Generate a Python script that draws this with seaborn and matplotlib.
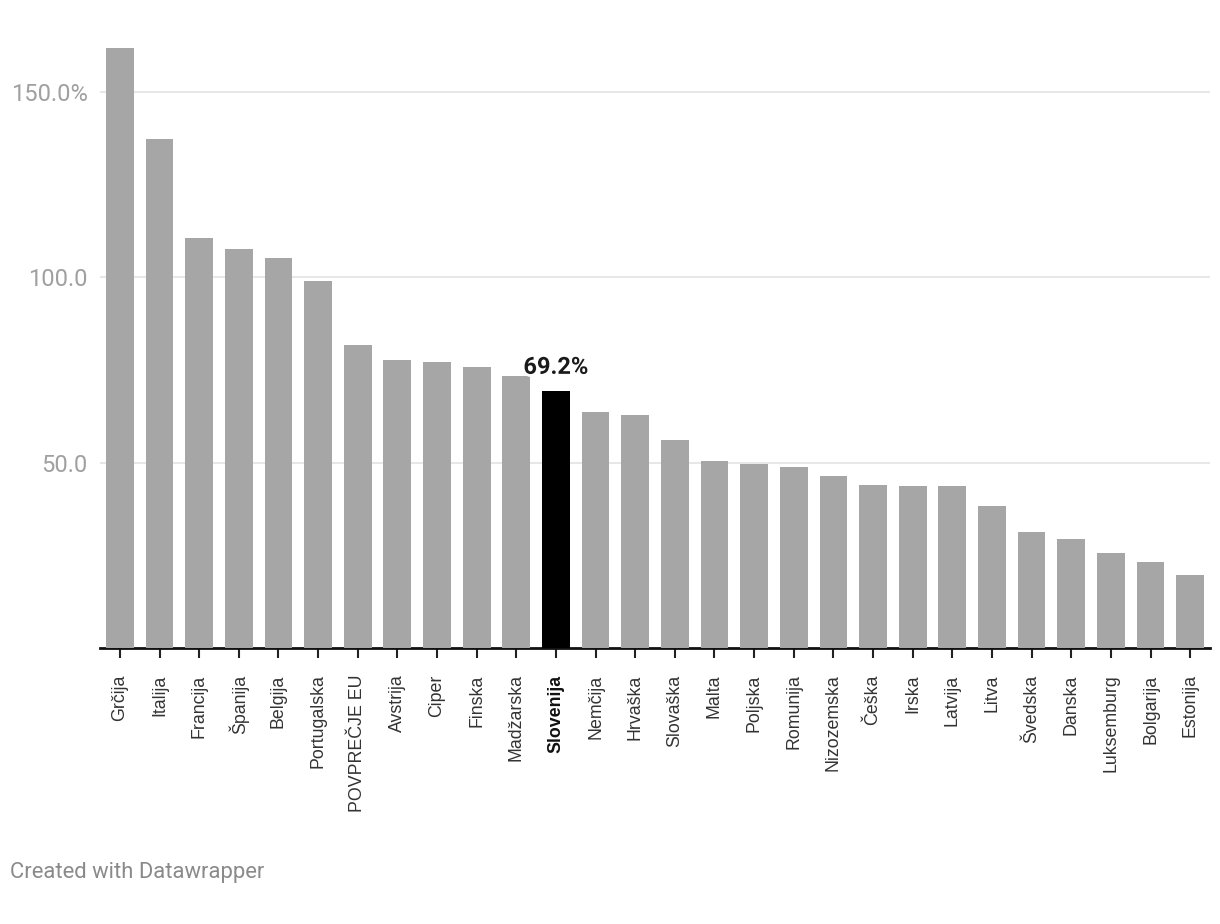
import pandas as pd
import seaborn as sns
import matplotlib.pyplot as plt
import matplotlib.patheffects as pe

countries = [
    "Grčija", "Italija", "Francija", "Španija", "Belgija", "Portugalska",
    "POVPREČJE EU", "Avstrija", "Ciper", "Finska", "Madžarska", "Slovenija",
    "Nemčija", "Hrvaška", "Slovaška", "Malta", "Poljska", "Romunija",
    "Nizozemska", "Češka", "Irska", "Latvija", "Litva", "Švedska",
    "Danska", "Luksemburg", "Bolgarija", "Estonija",
]
debt = [
    161.9, 137.3, 110.6, 107.7, 105.2, 99.0,
    81.8, 77.7, 77.2, 75.8, 73.4, 69.2,
    63.7, 62.9, 56.1, 50.5, 49.6, 48.8,
    46.4, 44.0, 43.7, 43.7, 38.3, 31.3,
    29.4, 25.6, 23.2, 19.7,
]
highlight = "Slovenija"
y_ticks = [50, 100, 150]
y_labels = ["50.0", "100.0", "150.0%"]

df = pd.DataFrame({"country": countries, "debt": debt})

sns.set_style("white")
plt.rcParams["font.family"] = ["Liberation Sans", "DejaVu Sans"]

fig = plt.figure(figsize=(12.2, 9.24), dpi=100)
ax = fig.add_axes([0.082, 0.2987, 0.9098, 0.6623])

palette = {c: ("#000000" if c == highlight else "#a6a6a6") for c in countries}

sns.barplot(
    data=df,
    x="country",
    y="debt",
    hue="country",
    palette=palette,
    legend=False,
    width=0.7,
    saturation=1,
    linewidth=0,
    ax=ax,
    zorder=3,
)

ax.set_ylim(0, 165)
ax.set_xlim(-0.5, len(countries) - 0.5)
ax.set_yticks(y_ticks)
ax.set_yticklabels(y_labels, fontfamily="Roboto", fontsize=17, color="#a0a0a0")
ax.tick_params(axis="y", length=0, pad=9)
ax.yaxis.grid(True, color="#e3e3e3", linewidth=1.2, zorder=0)
ax.set_axisbelow(True)

ax.tick_params(axis="x", bottom=True, length=7, width=1.5, color="#222222", pad=12)
for lbl in ax.get_xticklabels():
    lbl.set_rotation(90)
    lbl.set_fontsize(12.8)
    lbl.set_color("#333333")
    lbl.set_va("top")
    if lbl.get_text() == highlight:
        lbl.set_fontweight("bold")
        lbl.set_color("#111111")

for side in ["top", "right", "left"]:
    ax.spines[side].set_visible(False)
ax.spines["bottom"].set_color("#111111")
ax.spines["bottom"].set_linewidth(2)
ax.set_xlabel("")
ax.set_ylabel("")

idx = countries.index(highlight)
txt = ax.annotate(
    f"{debt[idx]:.1f}%",
    xy=(idx, debt[idx]),
    xytext=(0, 9),
    textcoords="offset points",
    ha="center",
    va="bottom",
    fontsize=17,
    fontweight="bold",
    fontfamily="Roboto",
    color="#1a1a1a",
    zorder=5,
)
txt.set_path_effects([pe.withStroke(linewidth=4, foreground="white")])

fig.text(0.008, 0.056, "Created with Datawrapper", fontsize=15.8,
         fontfamily="Roboto", color="#8a8a8a", ha="left", va="center")

fig.savefig("out.png", dpi=100, facecolor="white")
